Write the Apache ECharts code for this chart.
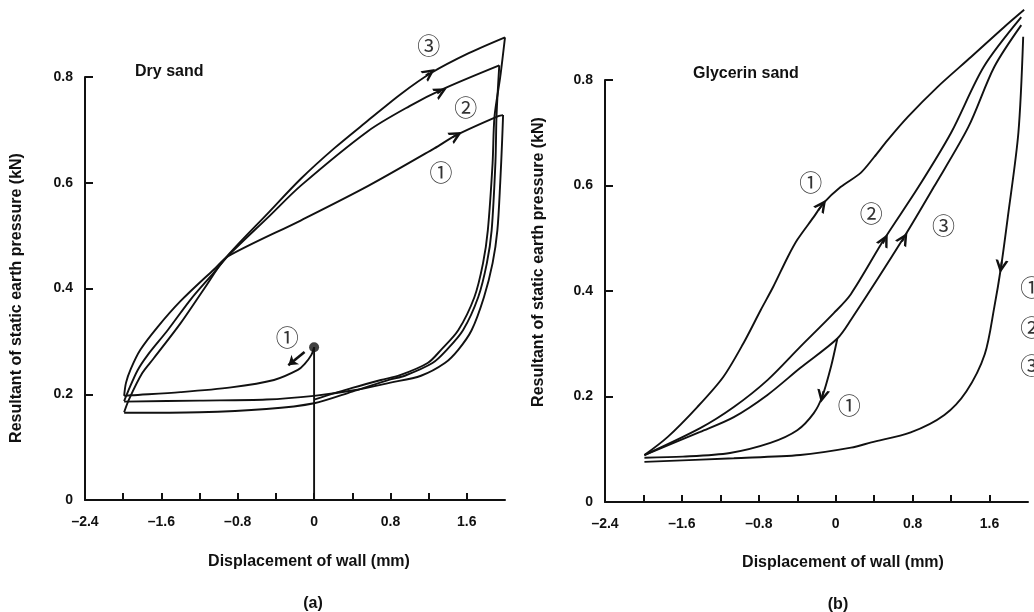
<!DOCTYPE html>
<html>
<head>
<meta charset="utf-8">
<script src="https://cdn.jsdelivr.net/npm/echarts@6/dist/echarts.min.js"></script>
<style>
  html, body { margin: 0; padding: 0; background: #fff; }
  #chart { width: 1034px; height: 612px; }
</style>
</head>
<body>
<div id="chart"></div>
<script>
// tick labels (both panels share the same scales)
var xTicks = [-2.4, -1.6, -0.8, 0, 0.8, 1.6];
var xTickLabels = ['\u20132.4', '\u20131.6', '\u20130.8', '0', '0.8', '1.6'];
var yTicks = [0, 0.2, 0.4, 0.6, 0.8];
var yTickLabels = ['0', '0.2', '0.4', '0.6', '0.8'];

// (a) Dry sand — [displacement mm, resultant kN]
var dryStem = [[0, 0], [0, 0.289]];
var dryStart = [[0, 0.289]];
var dryInitial = [[0, 0.289], [-0.03, 0.274], [-0.1, 0.257], [-0.17, 0.246], [-0.42, 0.227], [-0.87, 0.213], [-1.4, 0.204], [-1.92, 0.198], [-1.99, 0.197]];
var dryLoad1 = [[-1.99, 0.197], [-1.97, 0.222], [-1.92, 0.248], [-1.82, 0.284], [-1.64, 0.327], [-1.4, 0.376], [-1.05, 0.436], [-0.9, 0.461], [-0.136, 0.529], [0.567, 0.594], [1.26, 0.665], [1.49, 0.69], [1.93, 0.726], [1.98, 0.728]];
var dryLoad2 = [[-1.99, 0.187], [-1.95, 0.205], [-1.85, 0.245], [-1.74, 0.275], [-1.53, 0.322], [-1.29, 0.38], [-1.05, 0.43], [-0.9, 0.462], [-0.48, 0.535], [-0.136, 0.595], [0.567, 0.698], [1.0, 0.745], [1.36, 0.778], [1.94, 0.822]];
var dryLoad3 = [[-1.99, 0.166], [-1.94, 0.19], [-1.8, 0.24], [-1.68, 0.268], [-1.4, 0.334], [-1.15, 0.4], [-0.94, 0.455], [-0.48, 0.543], [-0.136, 0.608], [0.21, 0.665], [0.567, 0.718], [0.91, 0.768], [1.23, 0.808], [1.62, 0.845], [2.0, 0.875]];
var dryUnload1 = [[1.98, 0.728], [1.97, 0.68], [1.95, 0.6], [1.92, 0.51], [1.87, 0.448], [1.78, 0.384], [1.65, 0.321], [1.51, 0.284], [1.37, 0.259], [1.12, 0.235], [0.8, 0.222], [0.4, 0.207], [0, 0.197], [-0.5, 0.19], [-1.2, 0.188], [-1.99, 0.186]];
var dryUnload2 = [[1.94, 0.822], [1.92, 0.76], [1.91, 0.72], [1.9, 0.64], [1.86, 0.51], [1.81, 0.448], [1.72, 0.384], [1.56, 0.321], [1.39, 0.284], [1.24, 0.259], [0.95, 0.235], [0.8, 0.228], [0.4, 0.205], [0, 0.183], [-0.5, 0.172], [-1.2, 0.166], [-1.99, 0.165]];
var dryUnload3 = [[2.0, 0.875], [1.95, 0.8], [1.89, 0.725], [1.87, 0.637], [1.82, 0.51], [1.77, 0.448], [1.68, 0.384], [1.51, 0.321], [1.33, 0.284], [1.19, 0.259], [0.9, 0.236], [0.7, 0.227], [0.4, 0.212], [0, 0.19]];
// arrowheads sitting on the curves: [tail, head]
var dryArrows = [
  [[1.17, 0.803], [1.21, 0.808]],
  [[1.29, 0.769], [1.33, 0.773]],
  [[1.45, 0.686], [1.49, 0.69]]
];
// free-standing arrow beside the start point
var dryPointer = [[[-0.1, 0.28], [-0.27, 0.255]]];
var dryLabels = [['\u2462', 1.2, 0.86], ['\u2461', 1.59, 0.743], ['\u2460', 1.33, 0.62], ['\u2460', -0.28, 0.308]];

// (b) Glycerin sand
var glyInitial = [[0.017, 0.31], [-0.05, 0.256], [-0.14, 0.2], [-0.23, 0.168], [-0.4, 0.136], [-0.68, 0.112], [-1.1, 0.093], [-1.59, 0.086], [-1.99, 0.084]];
var glyLoad1 = [[-1.99, 0.089], [-1.75, 0.123], [-1.44, 0.18], [-1.17, 0.237], [-0.96, 0.301], [-0.78, 0.364], [-0.65, 0.408], [-0.5, 0.464], [-0.4, 0.497], [-0.23, 0.54], [-0.125, 0.567], [0.05, 0.597], [0.26, 0.624], [0.4, 0.654], [0.54, 0.686], [0.75, 0.73], [1.06, 0.787], [1.41, 0.844], [1.75, 0.9], [1.96, 0.933]];
var glyLoad2 = [[-1.99, 0.089], [-1.41, 0.14], [-1.06, 0.18], [-0.71, 0.231], [-0.37, 0.294], [-0.02, 0.358], [0.157, 0.394], [0.5, 0.497], [0.86, 0.597], [1.2, 0.7], [1.54, 0.825], [1.93, 0.919]];
var glyLoad3 = [[-1.99, 0.089], [-1.41, 0.133], [-1.06, 0.161], [-0.71, 0.203], [-0.37, 0.254], [0.017, 0.31], [0.157, 0.345], [0.71, 0.502], [1.02, 0.597], [1.38, 0.711], [1.65, 0.825], [1.93, 0.904]];
var glyUnload = [[1.95, 0.882], [1.9, 0.7], [1.79, 0.54], [1.72, 0.446], [1.65, 0.37], [1.55, 0.28], [1.36, 0.21], [1.13, 0.165], [0.78, 0.132], [0.37, 0.113], [0.16, 0.103], [-0.37, 0.089], [-1.06, 0.083], [-1.99, 0.076]];
var glyArrows = [
  [[-0.18, 0.553], [-0.14, 0.563]],
  [[0.49, 0.49], [0.51, 0.497]],
  [[0.69, 0.494], [0.71, 0.5]],
  [[1.728, 0.456], [1.72, 0.446]],
  [[-0.128, 0.21], [-0.14, 0.2]]
];
var glyLabels = [['\u2460', -0.26, 0.607], ['\u2461', 0.37, 0.548], ['\u2462', 1.12, 0.525], ['\u2460', 0.14, 0.184],
  ['\u2460', 2.04, 0.408], ['\u2461', 2.04, 0.332], ['\u2462', 2.04, 0.26]];

var ink = '#111';
var font = 'Liberation Sans, Arial, Helvetica, sans-serif';
var chevron = 'path://M5,0 L10,10 L8,10 L5,4.4 L2,10 L0,10 Z';

function pickLabel(v, ticks, labels) {
  for (var i = 0; i < ticks.length; i++) {
    if (Math.abs(v - ticks[i]) < 1e-6) return labels[i];
  }
  return '';
}

function xAxisFor(idx) {
  return {
    type: 'value', gridIndex: idx, min: -2.4, max: 2.0, interval: 0.4,
    axisLine: { onZero: false, lineStyle: { color: ink, width: 2 } },
    axisTick: { inside: true, length: 7, lineStyle: { color: ink, width: 2 } },
    axisLabel: {
      color: ink, fontSize: 14, fontFamily: font, fontWeight: 'bold', margin: 15,
      showMaxLabel: false,
      formatter: function (v) { return pickLabel(v, xTicks, xTickLabels); }
    },
    splitLine: { show: false }
  };
}

function yAxisFor(idx) {
  return {
    type: 'value', gridIndex: idx, min: 0, max: 0.8, interval: 0.2,
    axisLine: { show: true, onZero: false, lineStyle: { color: ink, width: 2 } },
    axisTick: { inside: true, length: 8, lineStyle: { color: ink, width: 2 } },
    axisLabel: {
      color: ink, fontSize: 14, fontFamily: font, fontWeight: 'bold', margin: 12,
      formatter: function (v) { return pickLabel(v, yTicks, yTickLabels); }
    },
    splitLine: { show: false }
  };
}

function curve(data, idx) {
  return {
    type: 'line', xAxisIndex: idx, yAxisIndex: idx, data: data,
    smooth: 0.3, showSymbol: false, symbol: 'none', clip: false,
    lineStyle: { color: ink, width: 1.9 }, silent: true, animation: false
  };
}

function arrows(list, idx, sym, size, width) {
  return {
    type: 'lines', coordinateSystem: 'cartesian2d', xAxisIndex: idx, yAxisIndex: idx,
    symbol: ['none', sym], symbolSize: size, clip: false, silent: true, animation: false,
    lineStyle: { color: ink, width: width, opacity: 1 },
    data: list.map(function (a) { return { coords: a }; })
  };
}

function marks(list, idx) {
  return {
    type: 'scatter', xAxisIndex: idx, yAxisIndex: idx, clip: false, silent: true, animation: false,
    symbolSize: 1, itemStyle: { color: 'rgba(0,0,0,0)' },
    label: {
      show: true, position: 'inside', color: '#000', fontSize: 23,
      fontFamily: 'Noto Sans CJK JP, DejaVu Sans, sans-serif',
      formatter: function (p) { return p.data[2]; }
    },
    data: list.map(function (l) { return [l[1], l[2], l[0]]; })
  };
}

function caption(text, x, y, rot) {
  return {
    type: 'text', x: x, y: y, rotation: rot || 0,
    style: { text: text, fill: ink, font: 'bold 16px ' + font, align: 'center', verticalAlign: 'middle' }
  };
}

var chart = echarts.init(document.getElementById('chart'));
var option = {
  animation: false,
  backgroundColor: '#fff',
  grid: [
    { left: 85, top: 77, width: 420, height: 423 },
    { left: 605, top: 80, width: 423, height: 422 }
  ],
  xAxis: [xAxisFor(0), xAxisFor(1)],
  yAxis: [yAxisFor(0), yAxisFor(1)],
  series: [
    curve(dryStem, 0), curve(dryInitial, 0),
    curve(dryLoad1, 0), curve(dryLoad2, 0), curve(dryLoad3, 0),
    curve(dryUnload1, 0), curve(dryUnload2, 0), curve(dryUnload3, 0),
    {
      type: 'scatter', xAxisIndex: 0, yAxisIndex: 0, data: dryStart, symbolSize: 10,
      itemStyle: { color: ink }, silent: true, animation: false
    },
    arrows(dryArrows, 0, chevron, 13, 1.9),
    arrows(dryPointer, 0, 'arrow', 9, 2.6),
    marks(dryLabels, 0),
    curve(glyInitial, 1),
    curve(glyLoad1, 1), curve(glyLoad2, 1), curve(glyLoad3, 1), curve(glyUnload, 1),
    arrows(glyArrows, 1, chevron, 13, 1.9), marks(glyLabels, 1)
  ],
  graphic: [
    { type: 'text', left: 135, top: 64, style: { text: 'Dry sand', fill: ink, font: 'bold 16px ' + font } },
    { type: 'text', left: 693, top: 66, style: { text: 'Glycerin sand', fill: ink, font: 'bold 16px ' + font } },
    caption('Resultant of static earth pressure (kN)', 17, 298, Math.PI / 2),
    caption('Resultant of static earth pressure (kN)', 539, 262, Math.PI / 2),
    caption('Displacement of wall (mm)', 309, 562),
    caption('Displacement of wall (mm)', 843, 563),
    caption('(a)', 313, 604),
    caption('(b)', 838, 605)
  ]
};
chart.setOption(option);
</script>
</body>
</html>
